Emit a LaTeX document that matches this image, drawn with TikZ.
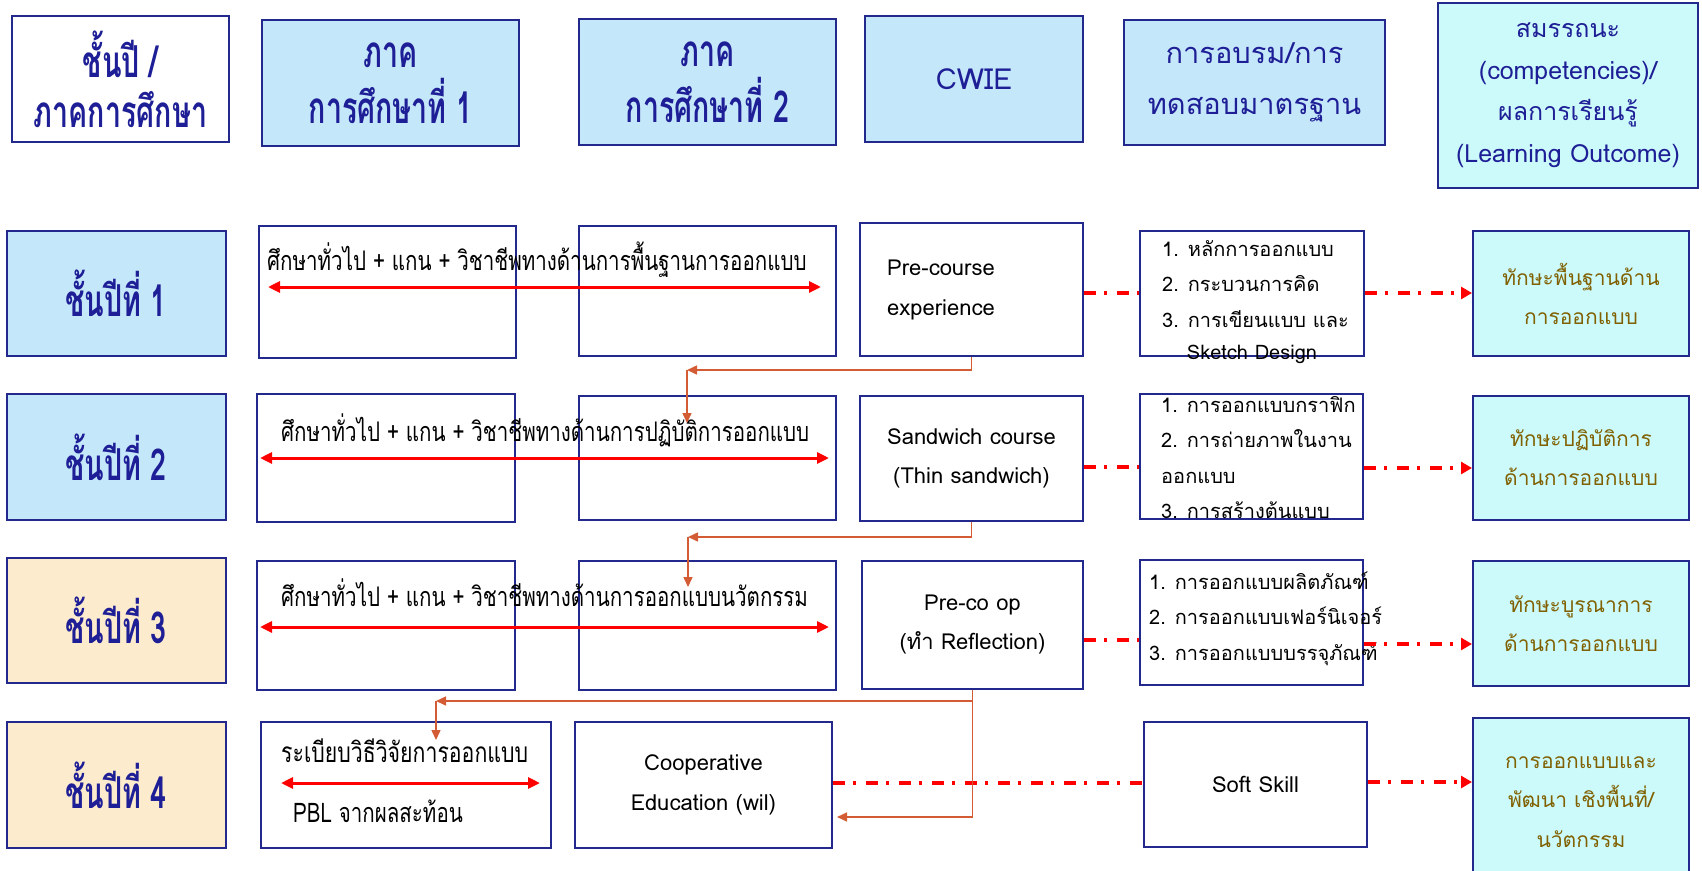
\documentclass[tikz,border=0pt]{standalone}
\usepackage{fontspec}
\setmainfont[Script=Thai]{Loma}
\newfontfamily\thnarrow[Script=Thai,FakeStretch=0.65]{Loma}
\newfontfamily\thcond[Script=Thai,FakeStretch=0.76]{Loma}
\usetikzlibrary{arrows.meta}

\definecolor{boxline}{RGB}{35,40,140}
\definecolor{headtext}{RGB}{30,30,150}
\definecolor{skyfill}{RGB}{197,231,250}
\definecolor{sandfill}{RGB}{253,235,205}
\definecolor{aquafill}{RGB}{204,250,250}
\definecolor{olivetext}{RGB}{128,96,0}
\definecolor{linkcol}{RGB}{212,92,52}

\begin{document}
\begin{tikzpicture}[x=1pt, y=-1pt,
  cell/.style={draw=boxline, line width=2pt, fill=white, inner sep=0pt, align=center},
  head/.style={cell, fill=skyfill, text=headtext},
  year/.style={cell, text=headtext, font=\thnarrow\bfseries\fontsize{44}{50}\selectfont},
  goal/.style={cell, fill=aquafill, text=olivetext, font=\fontsize{21}{39}\selectfont},
  rowtext/.style={anchor=west, inner sep=0pt, font=\thcond\fontsize{27}{32}\selectfont},
  listtext/.style={anchor=west, inner sep=0pt, align=left, font=\fontsize{20}{35.5}\selectfont},
  spanarrow/.style={red, line width=3pt, arrows={Triangle[length=12pt,width=11pt]-Triangle[length=12pt,width=11pt]}},
  dashdot/.style={red, line width=3.5pt, dash pattern=on 12pt off 8pt on 3pt off 10pt},
  dashtip/.style={dashdot, -{Triangle[length=11pt,width=12pt]}},
  link/.style={linkcol, line width=1.5pt, -{Triangle[length=10pt,width=9pt]}}]
\useasboundingbox (0,0) rectangle (1702,870);

% header row
\node[head, fill=white, minimum width=217pt, minimum height=126pt, font=\thnarrow\bfseries\fontsize{44}{50}\selectfont] (h0) at (120.5,79) {ชั้นปี /\\ภาคการศึกษา};
\node[head, minimum width=257pt, minimum height=126pt, font=\thnarrow\bfseries\fontsize{44}{56}\selectfont] (h1) at (390.5,83) {ภาค\\การศึกษาที่ 1};
\node[head, minimum width=257pt, minimum height=126pt, font=\thnarrow\bfseries\fontsize{44}{56}\selectfont] (h2) at (707.5,82) {ภาค\\การศึกษาที่ 2};
\node[head, minimum width=218pt, minimum height=126pt, font=\fontsize{29}{51}\selectfont] (h3) at (974,79) {CWIE};
\node[head, minimum width=261pt, minimum height=125pt, font=\fontsize{29}{51}\selectfont] (h4) at (1254.5,82.5) {การอบรม/การ\\ทดสอบมาตรฐาน};
\node[head, fill=aquafill, minimum width=260pt, minimum height=185pt, font=\fontsize{25}{41.5}\selectfont] (h5) at (1568,95) {สมรรถนะ\\(competencies)/\\ผลการเรียนรู้\\(Learning Outcome)};

% year 1
\node[year, fill=skyfill, minimum width=219pt, minimum height=125pt] (y1) at (116,293.5) {ชั้นปีที่ 1};
\node[cell, minimum width=257pt, minimum height=132pt] (a1) at (387.5,292) {};
\node[cell, minimum width=257pt, minimum height=130pt] (b1) at (707.5,291) {};
\node[cell, minimum width=223pt, minimum height=133pt] (c1) at (971.5,289.5) {};
\node[cell, minimum width=224pt, minimum height=125pt] (d1) at (1252,293.5) {};
\node[goal, minimum width=216pt, minimum height=125pt] (e1) at (1581,293.5) {ทักษะพื้นฐานด้าน\\การออกแบบ};
\node[rowtext] (t1) at (267,260) {ศึกษาทั่วไป + แกน + วิชาชีพทางด้านการพื้นฐานการออกแบบ};
\node[listtext, font=\fontsize{22}{40}\selectfont] (c1t) at (887,290) {Pre-course\\experience};
\node[listtext] (d1t) at (1162,284) {1. หลักการออกแบบ\\2. กระบวนการคิด\\3. การเขียนแบบ และ};
\node[inner sep=0pt, font=\fontsize{20}{24}\selectfont] (d1s) at (1252,354) {Sketch Design};

% year 2
\node[year, fill=skyfill, minimum width=219pt, minimum height=126pt] (y2) at (116,457) {ชั้นปีที่ 2};
\node[cell, minimum width=258pt, minimum height=128pt] (a2) at (386,458) {};
\node[cell, minimum width=257pt, minimum height=124pt] (b2) at (707.5,458) {};
\node[cell, minimum width=223pt, minimum height=125pt, font=\fontsize{22}{39}\selectfont] (c2) at (971.5,458.5) {Sandwich course\\(Thin sandwich)};
\node[cell, minimum width=223pt, minimum height=125pt] (d2) at (1251.5,456.5) {};
\node[goal, minimum width=216pt, minimum height=124pt] (e2) at (1581,458) {ทักษะปฏิบัติการ\\ด้านการออกแบบ};
\node[rowtext] (t2) at (281,430) {ศึกษาทั่วไป + แกน + วิชาชีพทางด้านการปฏิบัติการออกแบบ};
\node[listtext] (d2t) at (1161,457.5) {1. การออกแบบกราฟิก\\2. การถ่ายภาพในงาน\\ออกแบบ\\3. การสร้างต้นแบบ};

% year 3
\node[year, fill=sandfill, minimum width=219pt, minimum height=125pt] (y3) at (116,620.5) {ชั้นปีที่ 3};
\node[cell, minimum width=258pt, minimum height=129pt] (a3) at (386,625.5) {};
\node[cell, minimum width=257pt, minimum height=129pt] (b3) at (707.5,625.5) {};
\node[cell, minimum width=221pt, minimum height=128pt, font=\fontsize{22}{39}\selectfont] (c3) at (972.5,625) {Pre-co op\\(ทำ Reflection)};
\node[cell, minimum width=223pt, minimum height=125pt] (d3) at (1251.5,622.5) {};
\node[goal, minimum width=216pt, minimum height=125pt] (e3) at (1581,623.5) {ทักษะบูรณาการ\\ด้านการออกแบบ};
\node[rowtext] (t3) at (281,593) {ศึกษาทั่วไป + แกน + วิชาชีพทางด้านการออกแบบนวัตกรรม};
\node[listtext] (d3t) at (1149,618.5) {1. การออกแบบผลิตภัณฑ์\\2. การออกแบบเฟอร์นิเจอร์\\3. การออกแบบบรรจุภัณฑ์};

% year 4
\node[year, fill=sandfill, minimum width=219pt, minimum height=126pt] (y4) at (116,785) {ชั้นปีที่ 4};
\node[cell, minimum width=290pt, minimum height=126pt] (a4) at (406,785) {};
\node[cell, minimum width=257pt, minimum height=126pt, font=\fontsize{22}{40}\selectfont] (c4) at (703.5,785) {Cooperative\\Education (wil)};
\node[cell, minimum width=223pt, minimum height=125pt, font=\fontsize{22}{26}\selectfont] (d4) at (1255.5,784.5) {Soft Skill};
\node[goal, minimum width=216pt, minimum height=162pt] (e4) at (1581,799) {};
\node[text=olivetext, font=\fontsize{21}{39.5}\selectfont, align=center] (e4t) at (1581,802) {การออกแบบและ\\พัฒนา เชิงพื้นที่/\\นวัตกรรม};
\node[rowtext, font=\thcond\fontsize{28}{32}\selectfont] (t4a) at (281,751) {ระเบียบวิธีวิจัยการออกแบบ};
\node[rowtext] (t4b) at (293,811) {PBL จากผลสะท้อน};

% red spans
\coordinate (s1l) at (268,287);  \coordinate (s1r) at (821,287);
\coordinate (s2l) at (260,458);  \coordinate (s2r) at (829,458);
\coordinate (s3l) at (260,627);  \coordinate (s3r) at (829,627);
\coordinate (s4l) at (281,783);  \coordinate (s4r) at (540,783);
\draw[spanarrow] (s1l) -- (s1r);
\draw[spanarrow] (s2l) -- (s2r);
\draw[spanarrow] (s3l) -- (s3r);
\draw[spanarrow] (s4l) -- (s4r);

% dash-dot links
\draw[dashdot] (c1.east |- 0,293) -- (d1.west |- 0,293);
\draw[dashtip] (d1.east |- 0,293) -- (e1.west |- 0,293);
\draw[dashdot] (c2.east |- 0,467) -- (d2.west |- 0,467);
\draw[dashtip] (d2.east |- 0,468) -- (e2.west |- 0,468);
\draw[dashdot] (c3.east |- 0,640) -- (d3.west |- 0,640);
\draw[dashtip] (d3.east |- 0,644) -- (e3.west |- 0,644);
\draw[dashdot] (c4.east |- 0,783) -- (d4.west |- 0,783);
\draw[dashtip] (d4.east |- 0,782) -- (e4.west |- 0,782);

% orange flow
\coordinate (k1) at (687,370);  \coordinate (k1e) at (687,423);
\coordinate (k2) at (688,537);  \coordinate (k2e) at (688,587);
\coordinate (k3) at (436,701);  \coordinate (k3e) at (436,740);
\coordinate (k4) at (837,817);
\draw[link] (c1.south) |- (k1);
\draw[link] (k1) -- (k1e);
\draw[link] (c2.south) |- (k2);
\draw[link] (k2) -- (k2e);
\draw[link] (c3.south) |- (k3);
\draw[link] (k3) -- (k3e);
\draw[link] (c3.south) |- (k4);
\end{tikzpicture}
\end{document}
